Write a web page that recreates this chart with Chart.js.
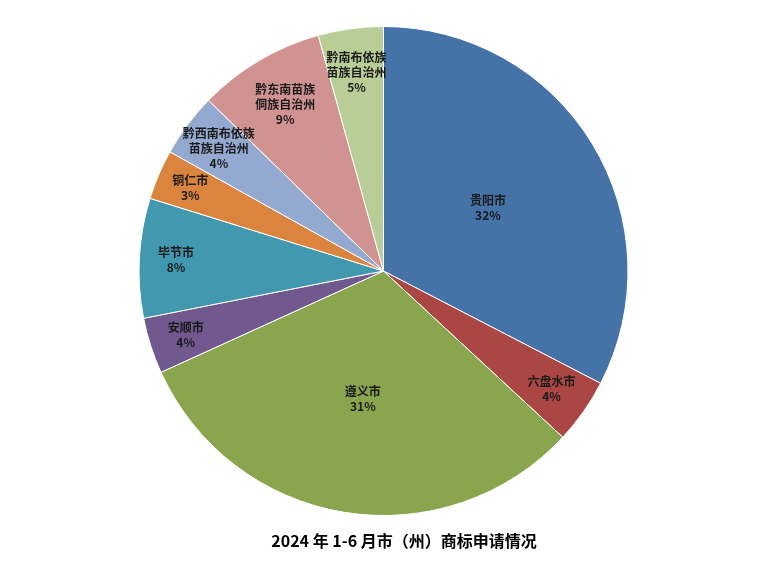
<!DOCTYPE html>
<html>
<head>
<meta charset="utf-8">
<script src="https://cdn.jsdelivr.net/npm/chart.js@4/dist/chart.umd.min.js"></script>
<style>
  html, body { margin: 0; padding: 0; background: #fff; }
  #wrap { width: 781px; height: 566px; }
</style>
</head>
<body>
<div id="wrap"><canvas id="c" width="781" height="566"></canvas></div>
<script>
// 各市（州）商标申请占比
const regions = ["贵阳市", "六盘水市", "遵义市", "安顺市", "毕节市", "铜仁市",
  "黔西南布依族\n苗族自治州", "黔东南苗族\n侗族自治州", "黔南布依族\n苗族自治州"];
const shares = [32.6, 4.3, 31.3, 3.7, 7.9, 3.3, 4.2, 8.4, 4.3];
const pctLabels = ["32%", "4%", "31%", "4%", "8%", "3%", "4%", "9%", "5%"];
const colors = ["#4572A7", "#AA4643", "#89A54E", "#71588F", "#4198AF",
  "#DB843D", "#93A9CF", "#D19392", "#B9CD96"];
const chartTitle = "2024 年 1-6 月市（州）商标申请情况";

// 标签离圆心的位置（半径比例）
const labelRadius = [0.5, 0.84, 0.53, 0.85, 0.85, 0.86, 0.84, 0.79, 0.82];

const labelPlugin = {
  id: "sliceLabels",
  afterDatasetsDraw(chart) {
    const ctx = chart.ctx;
    const meta = chart.getDatasetMeta(0);
    ctx.save();
    ctx.fillStyle = "#1a1a1a";
    ctx.textAlign = "center";
    ctx.textBaseline = "middle";
    ctx.font = "bold 12px 'Noto Sans CJK SC'";
    meta.data.forEach((arc, i) => {
      const mid = (arc.startAngle + arc.endAngle) / 2;
      const r = arc.outerRadius * labelRadius[i];
      const x = arc.x + Math.cos(mid) * r;
      const y = arc.y + Math.sin(mid) * r;
      const lines = regions[i].split("\n").concat(pctLabels[i]);
      const lh = 15;
      lines.forEach((t, k) => {
        ctx.fillText(t, x, y + (k - (lines.length - 1) / 2) * lh);
      });
    });
    ctx.font = "bold 16px 'Noto Sans CJK SC'";
    ctx.fillStyle = "#000";
    ctx.fillText(chartTitle, 404, 541);
    ctx.restore();
  },
};

new Chart(document.getElementById("c"), {
  type: "pie",
  data: {
    labels: regions,
    datasets: [{ data: shares, backgroundColor: colors, borderColor: "#fff", borderWidth: 1 }],
  },
  options: {
    responsive: false,
    animation: false,
    layout: { padding: { top: 26, bottom: 50, left: 0, right: 14 } },
    plugins: { legend: { display: false }, tooltip: { enabled: false }, title: { display: false } },
  },
  plugins: [labelPlugin],
});
</script>
</body>
</html>
